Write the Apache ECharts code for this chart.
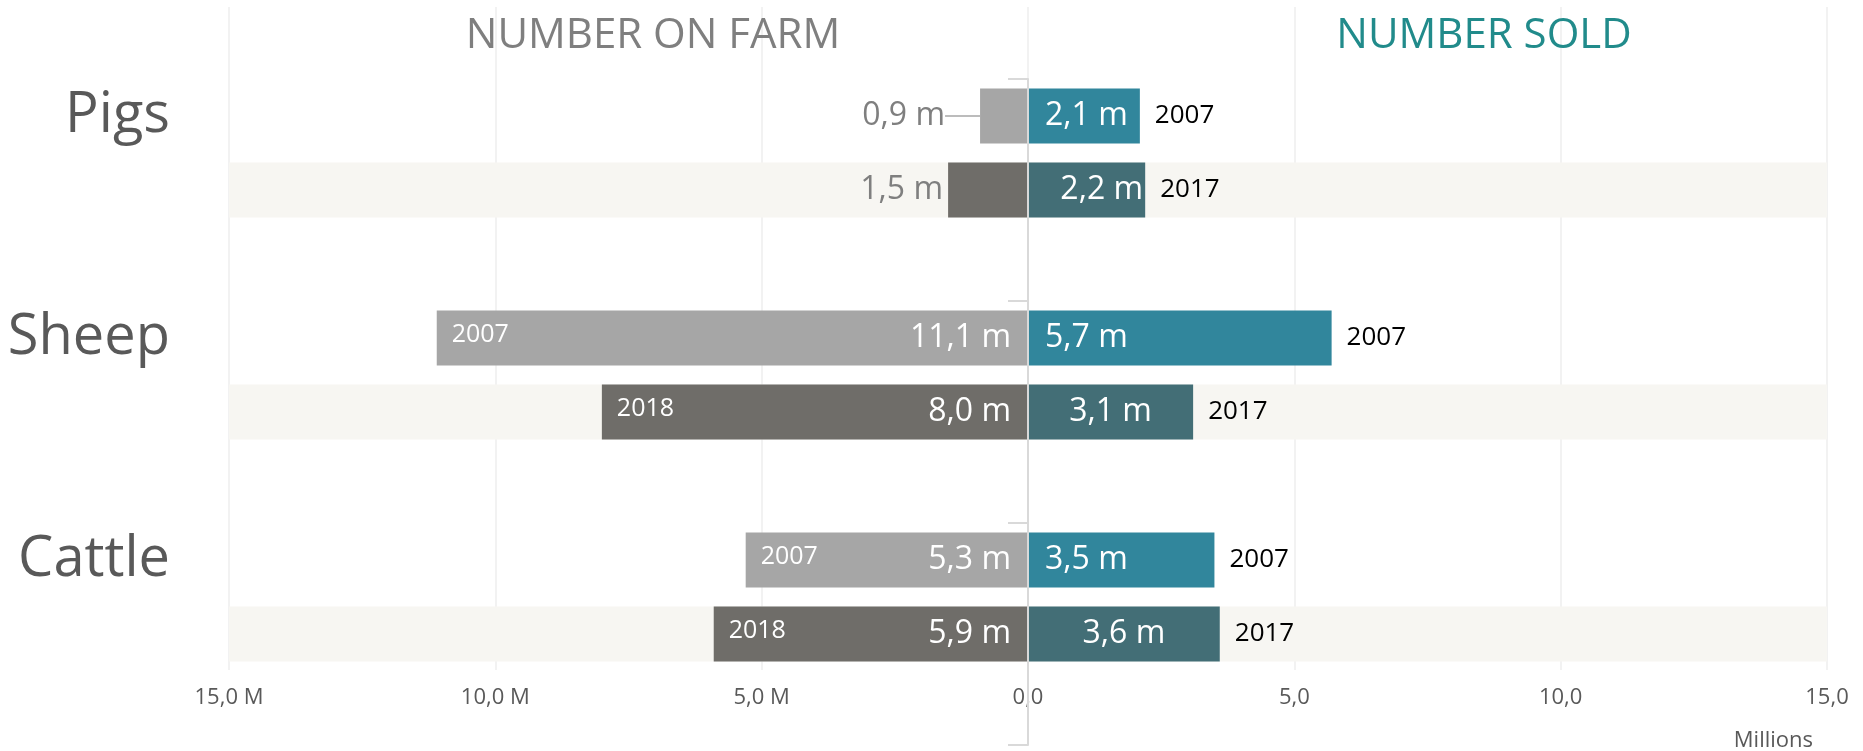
<!DOCTYPE html>
<html>
<head>
<meta charset="utf-8">
<script src="https://cdn.jsdelivr.net/npm/echarts@6/dist/echarts.min.js"></script>
<style>
html, body { margin: 0; padding: 0; background: #fff; }
#chart { width: 1863px; height: 751px; }
</style>
</head>
<body>
<div id="chart"></div>
<script>
// data
const animals = ['Pigs', 'Sheep', 'Cattle'];
const farmYears = ['2007', '2018'];
const soldYears = ['2007', '2017'];
const farmFirst = [0.9, 11.1, 5.3];
const farmLast = [1.5, 8.0, 5.9];
const soldFirst = [2.1, 5.7, 3.5];
const soldLast = [2.2, 3.1, 3.6];
const tickLabels = ['15,0 M', '10,0 M', '5,0 M', '0,0', '5,0', '10,0', '15,0'];
const axisMax = 15;

const font = 'Open Sans';
const farmColors = ['#a6a6a6', '#6f6d69'];
const soldColors = ['#31869c', '#436e76'];
const bandColor = '#f7f6f2';

// 3 slots per animal: first year, last year, empty gap
function rows(fn) {
  const out = [];
  animals.forEach((a, i) => {
    out.push(fn(i, 0));
    out.push(fn(i, 1));
    out.push('-');
  });
  return out;
}
const slotNames = rows((i, k) => (k === 0 ? animals[i] : '')).map(n => (n === '-' ? '' : n));
const fmt = v => Math.abs(v).toFixed(1).replace('.', ',') + ' m';

const farmVal = (i, k) => (k === 0 ? farmFirst[i] : farmLast[i]);
const soldVal = (i, k) => (k === 0 ? soldFirst[i] : soldLast[i]);

const farmData = rows((i, k) => {
  const v = farmVal(i, k);
  const item = { value: -v, itemStyle: { color: farmColors[k] } };
  if (v < 2) {
    item.label = { position: 'left', distance: 5, color: '#7f7f7f' };
    if (k === 0) item.labelLine = { show: true, lineStyle: { color: '#a6a6a6', width: 1.5 } };
  }
  return item;
});
const farmYearData = rows((i, k) => {
  const v = farmVal(i, k);
  return { value: -v, label: { show: v >= 2, formatter: farmYears[k] } };
});
const soldData = rows((i, k) => {
  const v = soldVal(i, k);
  let label = { position: k === 0 ? 'insideLeft' : 'inside' };
  if (k === 1 && v < 2.5) label = { position: 'insideRight', distance: 2 };
  return { value: v, itemStyle: { color: soldColors[k] }, label: label };
});
const soldYearData = rows((i, k) => ({ value: soldVal(i, k), label: { formatter: soldYears[k] } }));
const bandRight = rows((i, k) => (k === 1 ? axisMax : '-'));
const bandLeft = rows((i, k) => (k === 1 ? -axisMax : '-'));

const chart = echarts.init(document.getElementById('chart'));

const barCommon = {
  type: 'bar',
  xAxisIndex: 0,
  yAxisIndex: 0,
  barWidth: 55,
  barGap: '-100%',
  animation: false
};

const option = {
  backgroundColor: '#ffffff',
  textStyle: { fontFamily: font },
  title: [
    {
      text: 'NUMBER ON FARM',
      left: 648,
      textAlign: 'center',
      top: 10,
      textStyle: { fontFamily: font, fontSize: 42, fontWeight: 'normal', color: '#7f7f7f' }
    },
    {
      text: 'NUMBER SOLD',
      left: 1479,
      textAlign: 'center',
      top: 10,
      textStyle: { fontFamily: font, fontSize: 42, fontWeight: 'normal', color: '#218b8b' }
    },
    {
      text: 'Millions',
      right: 45,
      top: 725,
      textStyle: { fontFamily: font, fontSize: 22, fontWeight: 'normal', color: '#595959' }
    }
  ],
  grid: [
    { left: 229, right: 36, top: 79, height: 666 },
    { left: 229, right: 36, top: 7, bottom: 81 }
  ],
  xAxis: [
    { gridIndex: 0, type: 'value', min: -axisMax, max: axisMax, show: false },
    {
      gridIndex: 1,
      type: 'value',
      min: -axisMax,
      max: axisMax,
      interval: 5,
      axisLine: { show: false },
      axisTick: { show: false },
      splitLine: { lineStyle: { color: '#eeeeee', width: 1.5 } },
      axisLabel: {
        margin: 17,
        fontFamily: font,
        fontSize: 22,
        color: '#595959',
        formatter: v => tickLabels[Math.round((v + axisMax) / 5)]
      }
    }
  ],
  yAxis: [
    {
      gridIndex: 0,
      type: 'category',
      inverse: true,
      data: slotNames,
      axisLine: { show: false },
      axisTick: { show: false },
      axisLabel: { interval: 0, margin: 59, fontFamily: font, fontSize: 56, color: '#595959' }
    },
    {
      gridIndex: 0,
      type: 'category',
      inverse: true,
      data: slotNames,
      position: 'left',
      offset: -799,
      z: 10,
      axisLine: { show: true, lineStyle: { color: '#d9d9d9', width: 2 } },
      axisTick: { show: true, length: 20, interval: i => i % 3 === 0, lineStyle: { color: '#d9d9d9', width: 2 } },
      axisLabel: { show: false }
    },
    { gridIndex: 1, type: 'value', show: false }
  ],
  series: [
    Object.assign({}, barCommon, {
      name: 'bandR', data: bandRight, silent: true, z: 1,
      itemStyle: { color: bandColor }
    }),
    Object.assign({}, barCommon, {
      name: 'bandL', data: bandLeft, silent: true, z: 1,
      itemStyle: { color: bandColor }
    }),
    Object.assign({}, barCommon, {
      name: 'On farm',
      data: farmData,
      z: 3,
      label: {
        show: true,
        position: 'insideRight',
        distance: 17,
        color: '#ffffff',
        fontFamily: font,
        fontSize: 32,
        formatter: p => fmt(p.value)
      },
      labelLayout: p => (p.dataIndex === 0 ? { dx: -30 } : {})
    }),
    Object.assign({}, barCommon, {
      name: 'On farm year',
      data: farmYearData,
      z: 4,
      silent: true,
      itemStyle: { color: 'rgba(0,0,0,0)' },
      label: {
        show: true,
        position: 'insideLeft',
        distance: 15,
        offset: [0, -3],
        color: '#ffffff',
        fontFamily: font,
        fontSize: 25
      }
    }),
    Object.assign({}, barCommon, {
      name: 'Sold',
      data: soldData,
      z: 3,
      label: {
        show: true,
        distance: 17,
        color: '#ffffff',
        fontFamily: font,
        fontSize: 32,
        formatter: p => fmt(p.value)
      }
    }),
    Object.assign({}, barCommon, {
      name: 'Sold year',
      data: soldYearData,
      z: 4,
      silent: true,
      itemStyle: { color: 'rgba(0,0,0,0)' },
      label: {
        show: true,
        position: 'right',
        distance: 15,
        color: '#000000',
        fontFamily: font,
        fontSize: 26
      }
    })
  ]
};

chart.setOption(option);
</script>
</body>
</html>
